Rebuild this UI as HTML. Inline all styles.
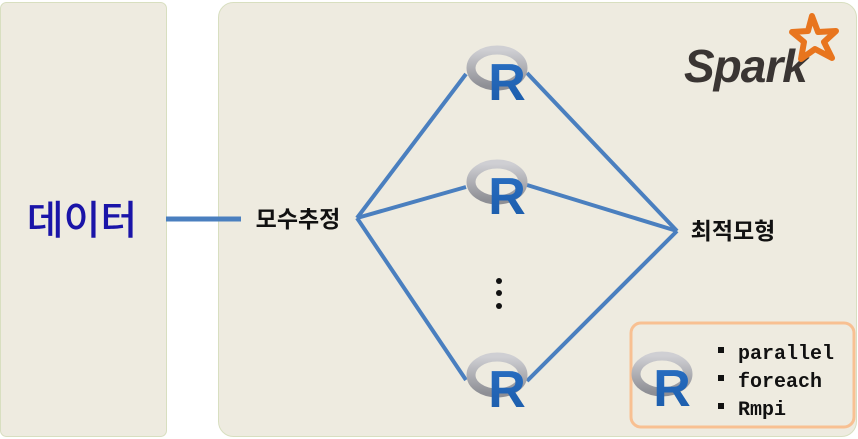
<!DOCTYPE html>
<html><head><meta charset="utf-8"><style>
html,body{margin:0;padding:0;background:#fff;width:858px;height:439px;overflow:hidden}
svg{display:block}
</style></head><body>
<svg width="858" height="439" viewBox="0 0 858 439" xmlns="http://www.w3.org/2000/svg">
<defs>
<linearGradient id="rg" x1="0" y1="0" x2="0" y2="1"><stop offset="0" stop-color="#cfcfd3"/><stop offset="1" stop-color="#8e8f95"/></linearGradient>
<linearGradient id="bg" x1="0" y1="0" x2="0" y2="1"><stop offset="0" stop-color="#2a70c4"/><stop offset="1" stop-color="#1a5aa8"/></linearGradient>
<g id="rlogo">
<ellipse cx="0" cy="-1" rx="26" ry="18" fill="none" stroke="url(#rg)" stroke-width="9"/>
<text x="10" y="31" text-anchor="middle" font-family="Liberation Sans, sans-serif" font-weight="bold" font-size="52" fill="url(#bg)">R</text>
</g>
</defs>
<rect x="0.5" y="2.5" width="166" height="434" rx="6" fill="#eeebe0" stroke="#d8dfc0"/>
<rect x="218.5" y="2.5" width="638" height="434" rx="15" fill="#eeebe0" stroke="#d8dfc0"/>
<text x="82" y="234" text-anchor="middle" font-family="Liberation Sans, 'Noto Sans CJK KR', sans-serif" font-size="40" font-weight="500" fill="#1a14a8">데이터</text>
<line x1="166" y1="219" x2="241" y2="219" stroke="#4a7fbf" stroke-width="5"/>
<text x="298" y="227" text-anchor="middle" font-family="Liberation Sans, 'Noto Sans CJK KR', sans-serif" font-size="23" font-weight="bold" fill="#111">모수추정</text>
<text x="733" y="239" text-anchor="middle" font-family="Liberation Sans, 'Noto Sans CJK KR', sans-serif" font-size="23" font-weight="bold" fill="#111">최적모형</text>
<g stroke="#4a7fbf" stroke-width="4" fill="none">
<line x1="357" y1="218" x2="466" y2="74"/>
<line x1="357" y1="218" x2="466" y2="187"/>
<line x1="357" y1="218" x2="466" y2="380"/>
<line x1="527" y1="73" x2="677" y2="231"/>
<line x1="527" y1="185" x2="677" y2="231"/>
<line x1="527" y1="381" x2="677" y2="231"/>
</g>
<use href="#rlogo" x="497" y="69"/>
<use href="#rlogo" x="497" y="183"/>
<use href="#rlogo" x="497" y="376"/>
<circle cx="499" cy="281" r="3" fill="#111"/>
<circle cx="499" cy="293" r="3" fill="#111"/>
<circle cx="499" cy="306" r="3" fill="#111"/>
<text x="684" y="82" font-family="Liberation Sans, sans-serif" font-style="italic" font-weight="bold" font-size="46" fill="#3a3533" letter-spacing="-1">Spark</text>
<path d="M812,16 L818,32 L836,31 L824,42 L832,58 L815,49 L801,59 L804,42 L792,32 L808,31 Z" fill="none" stroke="#e8751e" stroke-width="6" stroke-linejoin="round"/>
<rect x="631" y="323" width="223" height="104" rx="10" fill="#eeebe0" stroke="#f8c092" stroke-width="3"/>
<use href="#rlogo" x="662" y="375"/>
<g font-family="Liberation Mono, monospace" font-weight="bold" font-size="20" fill="#111">
<rect x="718" y="347" width="6" height="6"/><text x="738" y="359">parallel</text>
<rect x="718" y="375" width="6" height="6"/><text x="738" y="387">foreach</text>
<rect x="718" y="403" width="6" height="6"/><text x="738" y="415">Rmpi</text>
</g>
</svg>
</body></html>
